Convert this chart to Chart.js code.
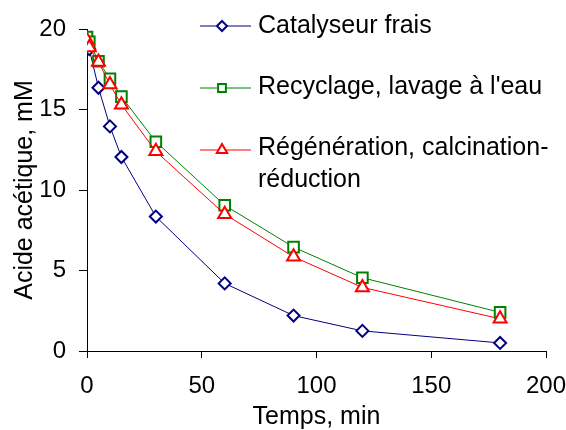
<!DOCTYPE html>
<html>
<head>
<meta charset="utf-8">
<script src="https://cdn.jsdelivr.net/npm/chart.js@4/dist/chart.umd.min.js"></script>
<style>
  html, body { margin: 0; padding: 0; background: #fff; }
  #wrap { width: 566px; height: 430px; }
</style>
</head>
<body>
<div id="wrap"><canvas id="chart" width="566" height="430"></canvas></div>
<script>
// Data
const times = [0, 1, 5, 10, 15, 30, 60, 90, 120, 180];
const frais = [19.3, 18.75, 16.35, 13.95, 12.05, 8.35, 4.2, 2.2, 1.25, 0.5];
const recyclage = [19.5, 19.2, 18.0, 16.9, 15.8, 13.0, 9.05, 6.45, 4.55, 2.4];
const regeneration = [19.3, 18.85, 17.95, 16.55, 15.3, 12.4, 8.5, 5.85, 3.95, 2.0];

const seriesNames = [
  ['Catalyseur frais'],
  ["Recyclage, lavage à l'eau"],
  ['Régénération, calcination-', 'réduction']
];
const xTicks = [0, 50, 100, 150, 200];
const yTicks = [0, 5, 10, 15, 20];

const font = 'Liberation Sans, Arial, sans-serif';

function toPoints(ys) {
  return times.map((t, i) => ({ x: t, y: ys[i] }));
}

// Legend drawn inside the plot, top right
const insideLegend = {
  id: 'insideLegend',
  afterDraw(chart) {
    const ctx = chart.ctx;
    const rows = [26, 88, 150];
    const baselines = [[33], [94], [155, 187]];
    const sizes = [5, 5.5, 6];
    ctx.save();
    chart.data.datasets.forEach((ds, i) => {
      const y = rows[i];
      ctx.strokeStyle = ds.borderColor;
      ctx.lineWidth = 1;
      ctx.beginPath();
      ctx.moveTo(200, y);
      ctx.lineTo(251, y);
      ctx.stroke();
      ctx.lineWidth = 2;
      ctx.fillStyle = '#fff';
      Chart.helpers.drawPoint(ctx, {
        pointStyle: ds.pointStyle,
        radius: sizes[i],
        rotation: 0,
        borderWidth: 2
      }, 222, y);
      ctx.fillStyle = '#000';
      ctx.font = '25px ' + font;
      ctx.textBaseline = 'alphabetic';
      seriesNames[i].forEach((line, k) => {
        ctx.fillText(line, 258, baselines[i][k]);
      });
    });
    ctx.restore();
  }
};

new Chart(document.getElementById('chart'), {
  type: 'line',
  data: {
    datasets: [{
        label: seriesNames[0].join(' '),
        data: toPoints(frais),
        borderColor: '#000080',
        backgroundColor: '#ffffff',
        pointStyle: 'rectRot',
        pointRadius: 6,
        pointBorderWidth: 2,
        borderWidth: 1,
        order: 2
      },
      {
        label: seriesNames[1].join(' '),
        data: toPoints(recyclage),
        borderColor: '#008000',
        backgroundColor: '#ffffff',
        pointStyle: 'rect',
        pointRadius: 7.5,
        pointBorderWidth: 2,
        borderWidth: 1,
        order: 1
      },
      {
        label: seriesNames[2].join(' '),
        data: toPoints(regeneration),
        borderColor: '#ff0000',
        backgroundColor: '#ffffff',
        pointStyle: 'triangle',
        pointRadius: 7.5,
        pointBorderWidth: 2,
        borderWidth: 1,
        order: 0
      }
    ]
  },
  options: {
    responsive: false,
    animation: false,
    layout: {
      padding: { left: 0, right: 20, top: 29, bottom: 0 }
    },
    plugins: {
      legend: { display: false },
      tooltip: { enabled: false }
    },
    scales: {
      x: {
        type: 'linear',
        min: 0,
        max: 200,
        afterBuildTicks(scale) {
          scale.ticks = xTicks.map(v => ({ value: v }));
        },
        afterFit(scale) {
          scale.height = 79;
          scale.paddingLeft = 0;
          scale.paddingRight = 0;
        },
        ticks: {
          color: '#000',
          padding: 14,
          maxRotation: 0,
          font: { family: font, size: 24 }
        },
        grid: {
          drawOnChartArea: false,
          color: '#000',
          tickLength: 7,
          tickColor: '#000'
        },
        border: { color: '#000', width: 1 },
        title: {
          display: true,
          text: 'Temps, min',
          color: '#000',
          font: { family: font, size: 25, lineHeight: 1 },
          padding: { top: 0, bottom: 0 }
        }
      },
      y: {
        type: 'linear',
        min: 0,
        max: 20,
        afterBuildTicks(scale) {
          scale.ticks = yTicks.map(v => ({ value: v }));
        },
        afterFit(scale) {
          scale.width = 87;
          scale.paddingTop = 0;
          scale.paddingBottom = 0;
        },
        ticks: {
          color: '#000',
          padding: 13,
          font: { family: font, size: 24 }
        },
        grid: {
          drawOnChartArea: false,
          color: '#000',
          tickLength: 8,
          tickColor: '#000'
        },
        border: { color: '#000', width: 1 },
        title: {
          display: true,
          text: 'Acide acétique, mM',
          color: '#000',
          font: { family: font, size: 25, lineHeight: 1 },
          padding: { top: 13, bottom: 0 }
        }
      }
    }
  },
  plugins: [insideLegend]
});
</script>
</body>
</html>
